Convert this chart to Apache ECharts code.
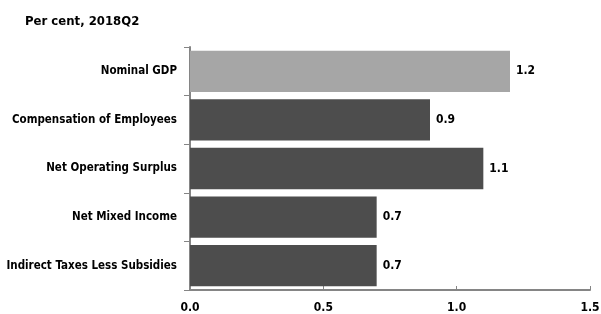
<!DOCTYPE html>
<html>
<head>
<meta charset="utf-8">
<script src="https://cdn.jsdelivr.net/npm/echarts@6/dist/echarts.min.js"></script>
<style>
  html, body { margin: 0; padding: 0; background: #fff; }
  #main { width: 601px; height: 314px; }
</style>
</head>
<body>
<div id="main"></div>
<script>
// data, top to bottom as drawn
var categories = ['Nominal GDP', 'Compensation of Employees', 'Net Operating Surplus', 'Net Mixed Income', 'Indirect Taxes Less Subsidies'];
var values = [1.2, 0.9, 1.1, 0.7, 0.7];
var barColors = ['#a6a6a6', '#4d4d4d', '#4d4d4d', '#4d4d4d', '#4d4d4d'];

var font = '"DejaVu Sans Condensed", sans-serif';
var myChart = echarts.init(document.getElementById('main'));

option = {
    animation: false,
    title: {
        text: 'Per cent, 2018Q2',
        left: 20,
        top: 10,
        textStyle: { fontFamily: font, fontSize: 13, fontWeight: 'bold', color: '#000' }
    },
    grid: { left: 190, right: 11, top: 47, bottom: 24, containLabel: false, outerBoundsMode: 'none' },
    xAxis: {
        type: 'value',
        min: 0,
        max: 1.5,
        interval: 0.5,
        splitLine: { show: false },
        axisLine: { show: true, lineStyle: { color: '#858585', width: 2 } },
        axisTick: { show: true, inside: true, length: 4, lineStyle: { color: '#858585' } },
        axisLabel: {
            fontFamily: font, fontSize: 12, fontWeight: 'bold', color: '#000', margin: 12,
            formatter: function (v) { return v.toFixed(1); }
        }
    },
    yAxis: {
        type: 'category',
        inverse: true,
        data: categories,
        axisLine: { show: true, lineStyle: { color: '#858585', width: 2 } },
        axisTick: { show: true, length: 6, lineStyle: { color: '#858585' } },
        axisLabel: { fontFamily: font, fontSize: 11.5, fontWeight: 'bold', color: '#000', margin: 13 }
    },
    series: [{
        type: 'bar',
        barCategoryGap: '15%',
        data: values.map(function (v, i) {
            return { value: v, itemStyle: { color: barColors[i] } };
        }),
        label: {
            show: true,
            position: 'right',
            distance: 6,
            fontFamily: font, fontSize: 12, fontWeight: 'bold', color: '#000',
            formatter: function (p) { return p.value.toFixed(1); }
        }
    }]
};
myChart.setOption(option);
</script>
</body>
</html>
